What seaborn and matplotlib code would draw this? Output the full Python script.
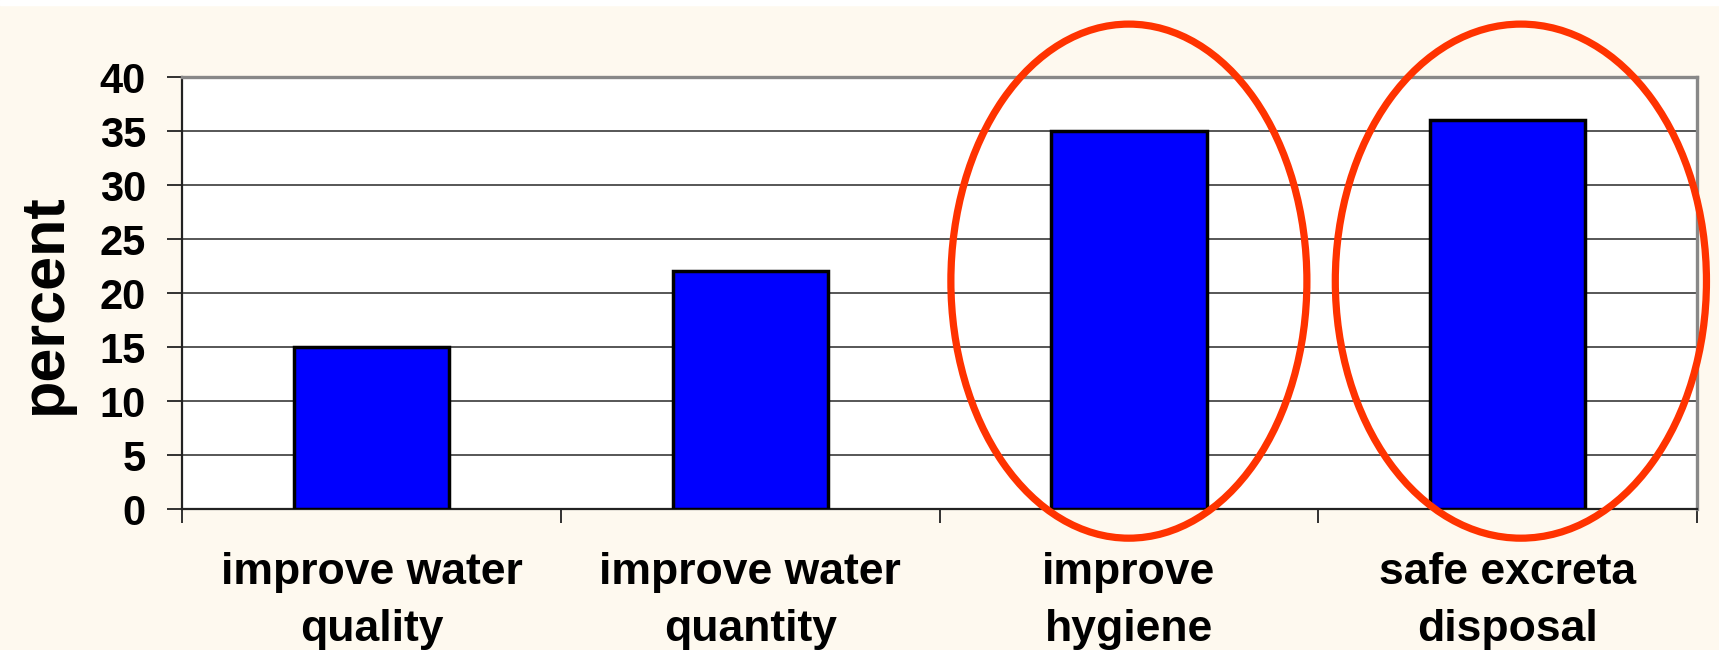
import matplotlib
matplotlib.use("Agg")
import matplotlib.pyplot as plt
import seaborn as sns
import pandas as pd
from matplotlib.patches import Ellipse, Rectangle

# values
categories = ["improve water\nquality", "improve water\nquantity",
              "improve\nhygiene", "safe excreta\ndisposal"]
percent = [15, 22, 35, 36]
yticks = [0, 5, 10, 15, 20, 25, 30, 35, 40]
# the two categories circled in red
highlighted = ["improve\nhygiene", "safe excreta\ndisposal"]

sns.set_theme(style="white")
plt.rcParams["font.family"] = ["Liberation Sans", "DejaVu Sans"]
plt.rcParams["font.weight"] = "bold"
plt.rcParams["text.color"] = "black"
plt.rcParams["axes.labelcolor"] = "black"
plt.rcParams["xtick.color"] = "black"
plt.rcParams["ytick.color"] = "black"

df = pd.DataFrame({"action": categories, "percent": percent})

fig = plt.figure(figsize=(17.19, 6.5), dpi=100, facecolor="#fef9ef")
# thin white strip on top like the original slide
fig.patches.append(Rectangle((0, 1 - 5 / 650), 1, 5 / 650, transform=fig.transFigure,
                             color="white", zorder=0))
ax = fig.add_axes([0.1059, 0.2169, 0.8813, 0.6646])
ax.set_facecolor("white")

sns.barplot(data=df, x="action", y="percent", color="#0000ff", saturation=1,
            width=0.41, edgecolor="black", linewidth=2.5, ax=ax, zorder=3)

ax.set_xlim(-0.5, len(categories) - 0.5)
ax.set_ylim(0, 40)
ax.set_yticks(yticks)
ax.yaxis.grid(True, color="#3a3a3a", linewidth=1.2, zorder=1)
ax.set_axisbelow(True)

# spines: dark left/bottom, grey top/right
for side in ["left", "bottom"]:
    ax.spines[side].set_color("#222222")
    ax.spines[side].set_linewidth(1.6)
for side in ["top", "right"]:
    ax.spines[side].set_color("#888888")
    ax.spines[side].set_linewidth(2.4)

ax.tick_params(axis="y", which="major", length=11, width=1.3, color="#222222",
               labelsize=30, pad=15, left=True, labelcolor="black")
ax.tick_params(axis="x", which="major", length=0, labelsize=32, pad=31, labelcolor="black")
ax.set_xticks([i - 0.5 for i in range(len(categories) + 1)], minor=True)
ax.tick_params(axis="x", which="minor", length=10, width=1.3, color="#222222", bottom=True)
for lab in ax.get_xticklabels():
    lab.set_fontweight("bold")
    lab.set_linespacing(1.5)
for lab in ax.get_yticklabels():
    lab.set_fontweight("bold")

ax.set_xlabel("")
ax.set_ylabel("percent", fontsize=44, fontweight="bold", va="center", color="black")
ax.yaxis.set_label_coords(-0.0904, 0.475)

# red ellipses around the highlighted bars
ell_shift = [0.0, 0.035]
ell_width = [0.94, 0.98]
for k, name in enumerate(highlighted):
    i = categories.index(name)
    e = Ellipse((i + ell_shift[k], 21.1), ell_width[k], 47.6, fill=False,
                edgecolor="#ff3300", linewidth=5.2, clip_on=False, zorder=5)
    ax.add_patch(e)

fig.savefig("out.png", dpi=100, facecolor=fig.get_facecolor())
